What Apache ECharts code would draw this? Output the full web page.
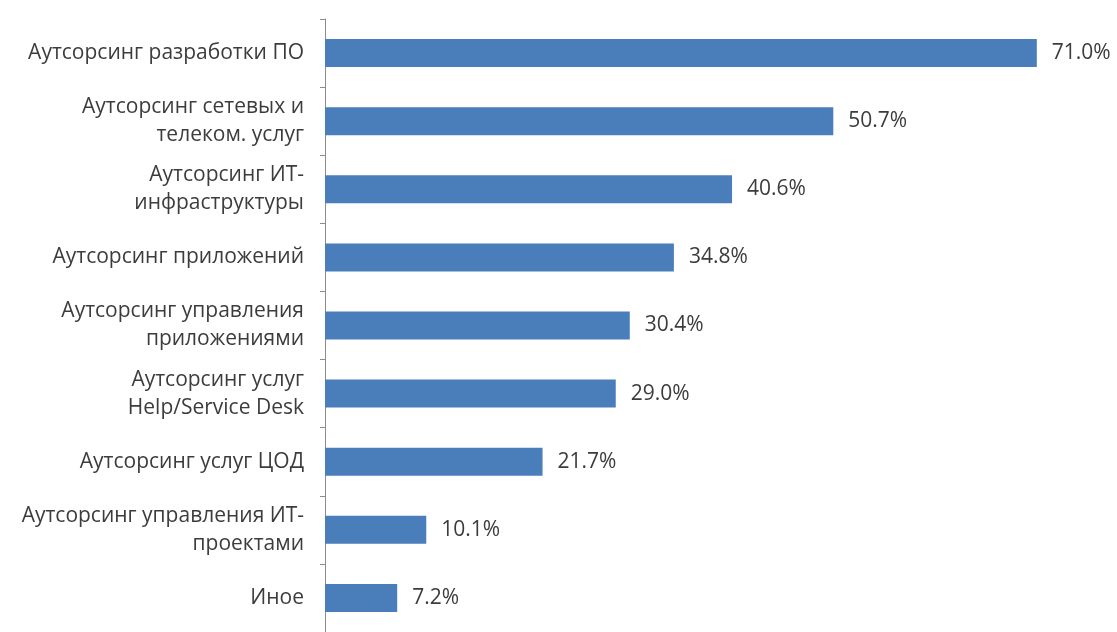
<!DOCTYPE html>
<html>
<head>
<meta charset="utf-8">
<script src="https://cdn.jsdelivr.net/npm/echarts@6/dist/echarts.min.js"></script>
<style>
  html, body { margin: 0; padding: 0; background: #ffffff; }
  #chart { width: 1117px; height: 632px; }
</style>
</head>
<body>
<div id="chart"></div>
<script>
// Outsourcing service types, top to bottom
const categories = [
  'Аутсорсинг разработки ПО',
  'Аутсорсинг сетевых и\nтелеком. услуг',
  'Аутсорсинг ИТ-\nинфраструктуры',
  'Аутсорсинг приложений',
  'Аутсорсинг управления\nприложениями',
  'Аутсорсинг услуг\nHelp/Service Desk',
  'Аутсорсинг услуг ЦОД',
  'Аутсорсинг управления ИТ-\nпроектами',
  'Иное'
];
// Share of respondents, %
const values = [71.0, 50.7, 40.6, 34.8, 30.4, 29.0, 21.7, 10.1, 7.2];

const FONT = '"Open Sans", "Liberation Sans", sans-serif';

const chart = echarts.init(document.getElementById('chart'), null, { renderer: 'canvas' });
chart.setOption({
  animation: false,
  backgroundColor: '#ffffff',
  grid: { left: 325, right: 10, top: 19, bottom: 0, containLabel: false },
  xAxis: {
    type: 'value',
    min: 0,
    max: 78,
    show: false
  },
  yAxis: {
    type: 'category',
    inverse: true,
    data: categories,
    axisLine: { show: true, lineStyle: { color: '#8c8c8c', width: 1 } },
    axisTick: { show: true, length: 5, lineStyle: { color: '#8c8c8c' } },
    axisLabel: {
      margin: 21,
      color: '#3c3c3c',
      fontFamily: FONT,
      fontSize: 21,
      lineHeight: 28,
      align: 'right'
    }
  },
  series: [{
    type: 'bar',
    data: values,
    barWidth: 28,
    itemStyle: { color: '#4a7ebb' },
    label: {
      show: true,
      position: 'right',
      distance: 15,
      color: '#3c3c3c',
      fontFamily: FONT,
      fontSize: 21,
      formatter: p => p.value.toFixed(1) + '%'
    }
  }]
});
</script>
</body>
</html>
